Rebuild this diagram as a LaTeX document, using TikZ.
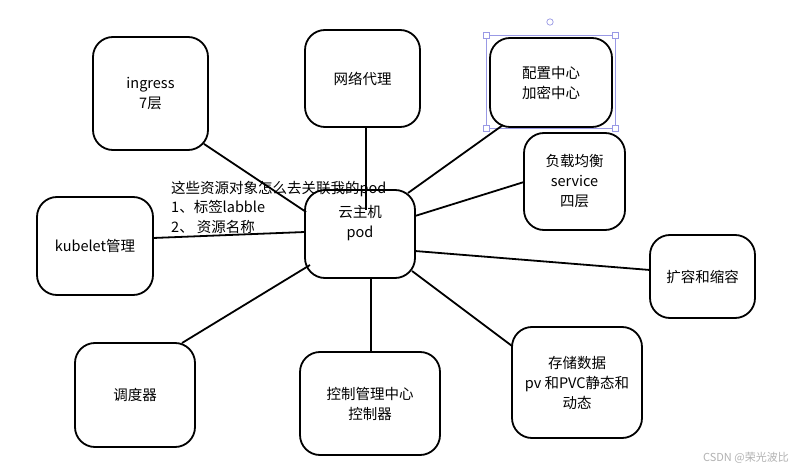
\documentclass[tikz,border=0pt]{standalone}
\usepackage{fontspec}
\setmainfont{Noto Sans CJK SC}
\begin{document}
\begin{tikzpicture}[x=1pt,y=-1pt,
  box/.style={draw=black,line width=1.8pt,rounded corners=20pt,align=center,font=\fontsize{14.5}{20}\selectfont,inner sep=0pt},
  conn/.style={draw=black,line width=1.8pt},
  sel/.style={draw=black!25!blue!40!white,line width=0.7pt}]
\useasboundingbox (0,0) rectangle (795,473);
\fill[white] (0,0) rectangle (795,473);
% boxes
\node[box,minimum width=115pt,minimum height=113pt] (ing) at (150.5,93.5) {ingress\\7层};
\node[box,minimum width=115pt,minimum height=97pt] (net) at (362.5,78.5) {网络代理};
\node[box,minimum width=122pt,minimum height=89pt] (cfg) at (551,82.5) {配置中心\\加密中心};
\node[box,minimum width=101pt,minimum height=97pt] (lb) at (574.5,181.5) {负载均衡\\service\\四层};
\node[box,minimum width=110pt,minimum height=88pt] (pod) at (360,234) {};
\node[font=\fontsize{14.5}{20}\selectfont,align=center] (podt) at (360,223) {云主机\\pod};
\node[box,minimum width=116pt,minimum height=98pt] (kub) at (95,246) {kubelet管理};
\node[box,minimum width=105pt,minimum height=83pt] (scale) at (702.5,276.5) {扩容和缩容};
\node[box,minimum width=120pt,minimum height=104pt] (sch) at (135,395) {调度器};
\node[box,minimum width=140pt,minimum height=103pt] (ctl) at (370,403.5) {控制管理中心\\控制器};
\node[box,minimum width=130pt,minimum height=111pt] (sto) at (577,382.5) {存储数据\\pv 和PVC静态和\\动态};
% selection frame
\coordinate (s1) at (486,35); \coordinate (s2) at (615,128);
\draw[sel] (s1) rectangle (s2);
\foreach \p in {(486,35),(615,35),(486,128),(615,128)}
  \draw[sel,fill=white] \p ++(-3,-3) rectangle ++(6,6);
\draw[sel,fill=white] (550,22) circle (3.2pt);
% connectors
\draw[conn] (ing.south east) ++(-5,-7) coordinate (a1) -- (306,212);
\draw[conn] (366,127) -- (366,210);
\draw[conn] (503,125) -- (408,193);
\draw[conn] (524,182) -- (415,216);
\draw[conn] (650,270) -- (415,251);
\draw[conn] (512,346) -- (412,271);
\draw[conn] (371,352) -- (371,278);
\draw[conn] (182,343) -- (310,265);
\draw[conn] (153,238) -- (305,232);
% annotation
\node[anchor=west,font=\fontsize{14.5}{19.5}\selectfont,align=left,inner sep=0pt] (note) at (171,207)
 {这些资源对象怎么去关联我的pod\\1、标签labble\\2、 资源名称};
\node[anchor=east,text=black!30,font=\fontsize{11}{12}\selectfont,inner sep=0pt] (wm) at (789,458) {CSDN @荣光波比};
\end{tikzpicture}
\end{document}
